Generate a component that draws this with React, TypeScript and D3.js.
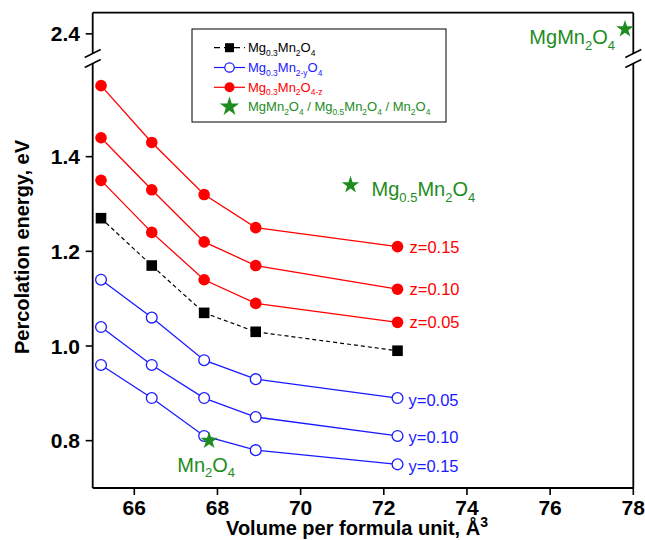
import React from "react";
import * as d3 from "d3";

// Volumes per formula unit (Å^3) shared by all composition series
const volumes = [65.2, 66.42, 67.68, 68.92, 72.33];

// Mg0.3Mn2O4 (stoichiometric)
const stoichEnergy = [1.27, 1.17, 1.07, 1.03, 0.99];

// Mg0.3Mn2O4-z (oxygen deficient)
const zLabels = ["z=0.15", "z=0.10", "z=0.05"];
const zEnergy = [
  [1.55, 1.43, 1.32, 1.25, 1.21],
  [1.44, 1.33, 1.22, 1.17, 1.12],
  [1.35, 1.24, 1.14, 1.09, 1.05],
];

// Mg0.3Mn2-yO4 (manganese deficient)
const yLabels = ["y=0.05", "y=0.10", "y=0.15"];
const yEnergy = [
  [1.14, 1.06, 0.97, 0.93, 0.89],
  [1.04, 0.96, 0.89, 0.85, 0.81],
  [0.96, 0.89, 0.81, 0.78, 0.75],
];

// Reference spinels
const refNames = ["MgMn_{2}O_{4}", "Mg_{0.5}Mn_{2}O_{4}", "Mn_{2}O_{4}"];
const refVolumes = [77.8, 71.2, 67.8];
const refEnergies = [2.41, 1.34, 0.8];

const xTicks = [66, 68, 70, 72, 74, 76, 78];
const yTicksLow = [0.8, 1.0, 1.2, 1.4];
const yTicksHigh = [2.4];

const legendNames = [
  "Mg_{0.3}Mn_{2}O_{4}",
  "Mg_{0.3}Mn_{2-y}O_{4}",
  "Mg_{0.3}Mn_{2}O_{4-z}",
  "MgMn_{2}O_{4} / Mg_{0.5}Mn_{2}O_{4} / Mn_{2}O_{4}",
];

const FONT = "Arial, 'Liberation Sans', Helvetica, sans-serif";
const RED = "#ff0000";
const BLUE = "#1a1aff";
const GREEN = "#1e8c1e";

const W = 645;
const H = 540;
const left = 92.7;
const right = 633.3;
const top = 12.7;
const bottom = 488;
const breakHi = 55; // lower edge of the upper panel
const breakLo = 62; // upper edge of the lower panel

const x = d3.scaleLinear().domain([65, 78]).range([left, right]);
const yLow = d3.scaleLinear().domain([0.7, 1.6]).range([bottom, breakLo]);
const yHigh = d3.scaleLinear().domain([2.355, 2.445]).range([breakHi, top]);
const yPos = (v: number) => (v > 2 ? yHigh(v) : yLow(v));

const line = d3
  .line<number>()
  .x((_, i) => x(volumes[i]))
  .y((d) => yPos(d));

const starPath = (size: number) => d3.symbol(d3.symbolStar, size)() as string;

type FormulaProps = {
  text: string;
  x: number;
  y: number;
  size: number;
  fill: string;
  anchor?: "start" | "middle" | "end";
  subScale?: number;
};

// Renders text containing _{...} subscripts
function Formula({ text, x, y, size, fill, anchor = "start", subScale = 0.65 }: FormulaProps) {
  const parts = text.split(/(_\{[^}]*\})/).filter(Boolean);
  const shift = size * 0.28;
  let prevSub = false;
  return (
    <text x={x} y={y} fontSize={size} fill={fill} textAnchor={anchor} fontFamily={FONT}>
      {parts.map((p, i) => {
        const isSub = p.startsWith("_{");
        const t = isSub ? p.slice(2, -1) : p;
        const dy = isSub && !prevSub ? shift : !isSub && prevSub ? -shift : 0;
        prevSub = isSub;
        return (
          <tspan key={i} dy={dy} fontSize={isSub ? size * subScale : size}>
            {t}
          </tspan>
        );
      })}
    </text>
  );
}

function BreakMark({ cx, cy }: { cx: number; cy: number }) {
  return (
    <path
      d={`M${cx - 8},${cy + 4}L${cx + 8},${cy - 4}`}
      stroke="#000"
      strokeWidth={1.4}
      fill="none"
    />
  );
}

export default function App() {
  const breakY1 = 53.5;
  const breakY2 = 63.5;
  const legendRows = [47.7, 67.5, 87.3, 106.7];
  const lgX0 = 214;
  const lgX1 = 245;
  const lgM = 229.5;
  const lgText = 248;

  return (
    <svg
      width={W}
      height={H}
      style={{ position: "absolute", left: 0, top: 0, background: "#fff" }}
      fontFamily={FONT}
    >
      {/* frame */}
      <g stroke="#000" strokeWidth={1.8} fill="none">
        <line x1={left} y1={top} x2={right} y2={top} />
        <line x1={left} y1={bottom} x2={right} y2={bottom} />
        <line x1={left} y1={top} x2={left} y2={breakY1} />
        <line x1={left} y1={breakY2} x2={left} y2={bottom} />
        <line x1={right} y1={top} x2={right} y2={breakY1} />
        <line x1={right} y1={breakY2} x2={right} y2={bottom} />
      </g>
      <BreakMark cx={left} cy={breakY1} />
      <BreakMark cx={left} cy={breakY2} />
      <BreakMark cx={right} cy={breakY1} />
      <BreakMark cx={right} cy={breakY2} />

      {/* x axis ticks */}
      {xTicks.map((t) => (
        <g key={t}>
          <line x1={x(t)} x2={x(t)} y1={bottom} y2={bottom + 7} stroke="#000" strokeWidth={1.6} />
          <text x={x(t)} y={515} textAnchor="middle" fontSize={21} fontWeight="bold">
            {t}
          </text>
        </g>
      ))}

      {/* y axis ticks */}
      {[...yTicksLow.map((t) => [t, yLow(t)]), ...yTicksHigh.map((t) => [t, yHigh(t)])].map(
        ([t, py]) => (
          <g key={t}>
            <line x1={left - 7} x2={left} y1={py} y2={py} stroke="#000" strokeWidth={1.6} />
            <text x={80} y={py + 7.5} textAnchor="end" fontSize={21} fontWeight="bold">
              {d3.format(".1f")(t)}
            </text>
          </g>
        )
      )}

      {/* axis titles */}
      <text x={357} y={535} textAnchor="middle" fontSize={20} fontWeight="bold">
        Volume per formula unit, Å
        <tspan fontSize={14} dy={-8}>
          3
        </tspan>
      </text>
      <text
        x={29}
        y={247}
        textAnchor="middle"
        fontSize={20}
        fontWeight="bold"
        transform="rotate(-90 29 247)"
      >
        Percolation energy, eV
      </text>

      {/* oxygen-deficient series */}
      {zEnergy.map((s, k) => (
        <g key={"z" + k}>
          <path d={line(s) as string} fill="none" stroke={RED} strokeWidth={1.3} />
          {s.map((v, i) => (
            <circle key={i} cx={x(volumes[i])} cy={yPos(v)} r={5.8} fill={RED} />
          ))}
          <text
            x={x(volumes[volumes.length - 1]) + 12}
            y={yPos(s[s.length - 1]) + 6}
            fill={RED}
            fontSize={16.5}
          >
            {zLabels[k]}
          </text>
        </g>
      ))}

      {/* stoichiometric series */}
      <path
        d={line(stoichEnergy) as string}
        fill="none"
        stroke="#000"
        strokeWidth={1.2}
        strokeDasharray="4,3"
      />
      {stoichEnergy.map((v, i) => (
        <rect key={i} x={x(volumes[i]) - 5.3} y={yPos(v) - 5.3} width={10.6} height={10.6} fill="#000" />
      ))}

      {/* manganese-deficient series */}
      {yEnergy.map((s, k) => (
        <g key={"y" + k}>
          <path d={line(s) as string} fill="none" stroke={BLUE} strokeWidth={1.3} />
          {s.map((v, i) => (
            <circle
              key={i}
              cx={x(volumes[i])}
              cy={yPos(v)}
              r={5.4}
              fill="#fff"
              stroke={BLUE}
              strokeWidth={1.3}
            />
          ))}
          <text
            x={x(volumes[volumes.length - 1]) + 11}
            y={yPos(s[s.length - 1]) + 7.5}
            fill={BLUE}
            fontSize={16.5}
          >
            {yLabels[k]}
          </text>
        </g>
      ))}

      {/* reference compounds */}
      {refVolumes.map((v, i) => (
        <path
          key={i}
          d={starPath(95)}
          transform={`translate(${x(v)},${yPos(refEnergies[i])})`}
          fill={GREEN}
        />
      ))}
      <Formula
        text={refNames[0]}
        x={x(refVolumes[0]) - 10}
        y={yPos(refEnergies[0]) + 15}
        size={20}
        fill={GREEN}
        anchor="end"
      />
      <Formula
        text={refNames[1]}
        x={x(refVolumes[1]) + 21}
        y={yPos(refEnergies[1]) + 11}
        size={20}
        fill={GREEN}
      />
      <Formula
        text={refNames[2]}
        x={x(refVolumes[2]) - 3}
        y={yPos(refEnergies[2]) + 31}
        size={20}
        fill={GREEN}
        anchor="middle"
      />

      {/* legend */}
      <rect x={192} y={29} width={254} height={93} fill="#fff" stroke="#000" strokeWidth={1} />
      <line
        x1={lgX0}
        x2={lgX1}
        y1={legendRows[0]}
        y2={legendRows[0]}
        stroke="#000"
        strokeWidth={1.2}
        strokeDasharray="6,4"
      />
      <rect x={lgM - 4.5} y={legendRows[0] - 4.5} width={9} height={9} fill="#000" />
      <line x1={lgX0} x2={lgX1} y1={legendRows[1]} y2={legendRows[1]} stroke={BLUE} strokeWidth={1.2} />
      <circle cx={lgM} cy={legendRows[1]} r={4.7} fill="#fff" stroke={BLUE} strokeWidth={1.2} />
      <line x1={lgX0} x2={lgX1} y1={legendRows[2]} y2={legendRows[2]} stroke={RED} strokeWidth={1.2} />
      <circle cx={lgM} cy={legendRows[2]} r={5} fill={RED} />
      <path d={starPath(115)} transform={`translate(${lgM},${legendRows[3]})`} fill={GREEN} />
      {legendNames.map((n, i) => (
        <Formula
          key={i}
          text={n}
          x={lgText}
          y={legendRows[i] + 4.5}
          size={13}
          fill={["#000", BLUE, RED, GREEN][i]}
        />
      ))}
    </svg>
  );
}
